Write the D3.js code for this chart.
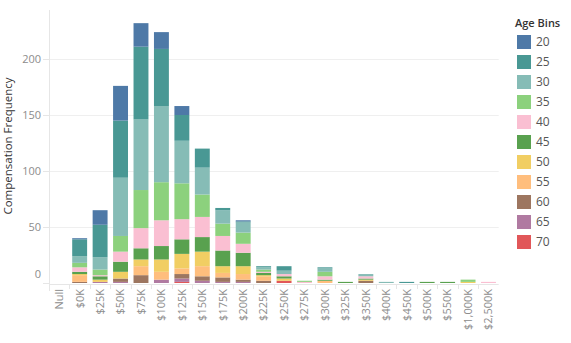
<!DOCTYPE html>
<html>
<head>
<meta charset="utf-8">
<script src="https://cdn.jsdelivr.net/npm/d3@7"></script>
<style>
  body { margin: 0; background: #fff; }
  text { font-family: "Open Sans", sans-serif; }
</style>
</head>
<body>
<script>
var CATEGORIES = ["Null", "$0K", "$25K", "$50K", "$75K", "$100K", "$125K", "$150K", "$175K", "$200K", "$225K",
    "$250K", "$275K", "$300K", "$325K", "$350K", "$400K", "$450K", "$500K", "$550K", "$1,000K", "$2,500K"];

// one array per age bin, same order as CATEGORIES
var AGE_20 = [0, 1, 13, 31, 21, 15, 8, 0, 0, 1, 0, 0, 0, 0, 0, 0, 0, 0, 0, 0, 0, 0];
var AGE_25 = [0, 15, 29, 51, 65, 51, 23, 17, 2, 1, 1, 4, 0, 1, 0, 0, 0, 1, 0, 0, 0, 0];
var AGE_30 = [0, 6, 11, 52, 63, 68, 38, 24, 12, 9, 2, 3, 0, 3, 0, 2, 1, 0, 0, 0, 0, 0];
var AGE_35 = [0, 4, 5, 14, 34, 34, 32, 20, 11, 10, 2, 0, 1, 4, 0, 0, 0, 0, 0, 0, 2, 0];
var AGE_40 = [0, 4, 1, 9, 18, 23, 18, 18, 13, 8, 1, 2, 1, 3, 0, 2, 0, 0, 0, 0, 0, 1];
var AGE_45 = [0, 2, 3, 9, 10, 12, 13, 13, 14, 12, 2, 2, 0, 1, 1, 1, 0, 0, 1, 1, 0, 0];
var AGE_50 = [0, 1, 2, 6, 6, 11, 13, 13, 6, 7, 1, 2, 0, 0, 0, 1, 0, 0, 0, 0, 1, 0];
var AGE_55 = [0, 6, 0, 0, 8, 7, 5, 9, 4, 5, 4, 0, 0, 2, 0, 0, 0, 0, 0, 0, 0, 0];
var AGE_60 = [0, 1, 0, 3, 7, 0, 4, 4, 4, 2, 2, 0, 0, 0, 0, 2, 0, 0, 0, 0, 0, 0];
var AGE_65 = [0, 0, 1, 1, 0, 3, 3, 2, 1, 1, 0, 0, 0, 0, 0, 0, 0, 0, 0, 0, 0, 0];
var AGE_70 = [0, 0, 0, 0, 0, 0, 1, 0, 0, 0, 0, 2, 0, 0, 0, 0, 0, 0, 0, 0, 0, 0];

var AGE_BINS = ["20", "25", "30", "35", "40", "45", "50", "55", "60", "65", "70"];
var SERIES = [AGE_20, AGE_25, AGE_30, AGE_35, AGE_40, AGE_45, AGE_50, AGE_55, AGE_60, AGE_65, AGE_70];
var BIN_COLORS = ["#4e79a7", "#499894", "#86bcb6", "#8cd17d", "#fabfd2", "#59a14f",
    "#f1ce63", "#ffbe7d", "#9d7660", "#b07aa1", "#e15759"];
var Y_TICKS = [0, 50, 100, 150, 200];

var W = 571, H = 343;
var LEFT = 49, RIGHT = 498.7, TOP = 10, BASE = 283;

// build rows for d3.stack
var rows = CATEGORIES.map(function(c, i) {
    var r = { cat: c };
    AGE_BINS.forEach(function(b, j) { r[b] = SERIES[j][i]; });
    return r;
});

// oldest bin at the bottom, 20 on top
var stack = d3.stack().keys(AGE_BINS.slice().reverse());
var layers = stack(rows);

var x = d3.scaleBand()
    .domain(CATEGORIES)
    .range([LEFT, RIGHT])
    .paddingInner(0.27)
    .paddingOuter(0.135);

var y = d3.scaleLinear()
    .domain([0, 243.75])
    .range([BASE, TOP]);

var color = d3.scaleOrdinal().domain(AGE_BINS).range(BIN_COLORS);

var svg = d3.select("body").append("svg")
    .attr("width", W)
    .attr("height", H);

// gridlines
var grid = svg.append("g")
    .attr("transform", "translate(" + LEFT + ",0)")
    .call(d3.axisLeft(y).tickValues(Y_TICKS.slice(1)).tickSize(-(RIGHT - LEFT)).tickFormat(""));
grid.select(".domain").remove();
grid.selectAll("line").attr("stroke", "#efefef");

// y axis with labels
var yAxis = svg.append("g")
    .attr("transform", "translate(" + LEFT + ",0)")
    .call(d3.axisLeft(y).tickValues(Y_TICKS).tickSize(6).tickPadding(2));
yAxis.select(".domain").remove();
yAxis.selectAll("line").attr("stroke", "#e6e6e6");
yAxis.selectAll("text")
    .attr("fill", "#8c8c8c")
    .style("font-size", "11px")
    .attr("dy", function(d) { return d === 0 ? "-0.5em" : "0.32em"; });

svg.append("line")
    .attr("x1", LEFT + 0.5).attr("x2", LEFT + 0.5)
    .attr("y1", TOP).attr("y2", 291)
    .attr("stroke", "#e6e6e6");

// bars
svg.append("g").selectAll("g")
    .data(layers)
    .enter().append("g")
    .attr("fill", function(d) { return color(d.key); })
    .selectAll("rect")
    .data(function(d) { return d.filter(function(p) { return p[1] > p[0]; }); })
    .enter().append("rect")
    .attr("x", function(d) { return x(d.data.cat); })
    .attr("y", function(d) { return y(d[1]); })
    .attr("width", x.bandwidth())
    .attr("height", function(d) { return y(d[0]) - y(d[1]); });

// x axis: baseline, separators, rotated labels
var step = x.step();
svg.append("line")
    .attr("x1", LEFT).attr("x2", RIGHT)
    .attr("y1", BASE + 1.5).attr("y2", BASE + 1.5)
    .attr("stroke", "#e6e6e6");

svg.append("g").selectAll("line")
    .data(CATEGORIES.slice(1))
    .enter().append("line")
    .attr("x1", function(d) { return Math.round(x(d) - step * 0.135) + 0.5; })
    .attr("x2", function(d) { return Math.round(x(d) - step * 0.135) + 0.5; })
    .attr("y1", BASE + 2)
    .attr("y2", BASE + 6)
    .attr("stroke", "#e6e6e6");

var xAxis = svg.append("g")
    .attr("transform", "translate(0," + (BASE + 6) + ")")
    .call(d3.axisBottom(x).tickSize(0).tickPadding(0));
xAxis.select(".domain").remove();
xAxis.selectAll("text")
    .attr("fill", "#8c8c8c")
    .style("font-size", "11px")
    .attr("text-anchor", "end")
    .attr("transform", "rotate(-90)")
    .attr("x", 0)
    .attr("y", 0)
    .attr("dy", "0.35em");

// y axis title
svg.append("text")
    .attr("transform", "translate(12,146) rotate(-90)")
    .attr("text-anchor", "middle")
    .attr("fill", "#333")
    .style("font-size", "11.5px")
    .text("Compensation Frequency");

// legend
var legend = svg.append("g").attr("transform", "translate(515,0)");
legend.append("text")
    .attr("x", 0)
    .attr("y", 27)
    .attr("fill", "#333")
    .style("font-size", "11px")
    .style("font-weight", "600")
    .text("Age Bins");

var item = legend.selectAll(".item")
    .data(AGE_BINS)
    .enter().append("g")
    .attr("class", "item")
    .attr("transform", function(d, i) { return "translate(2," + (35 + i * 20) + ")"; });
item.append("rect")
    .attr("width", 14)
    .attr("height", 14)
    .attr("fill", function(d) { return color(d); });
item.append("text")
    .attr("x", 19)
    .attr("y", 7)
    .attr("dy", "0.36em")
    .attr("fill", "#555")
    .style("font-size", "12px")
    .text(function(d) { return d; });
</script>
</body>
</html>
